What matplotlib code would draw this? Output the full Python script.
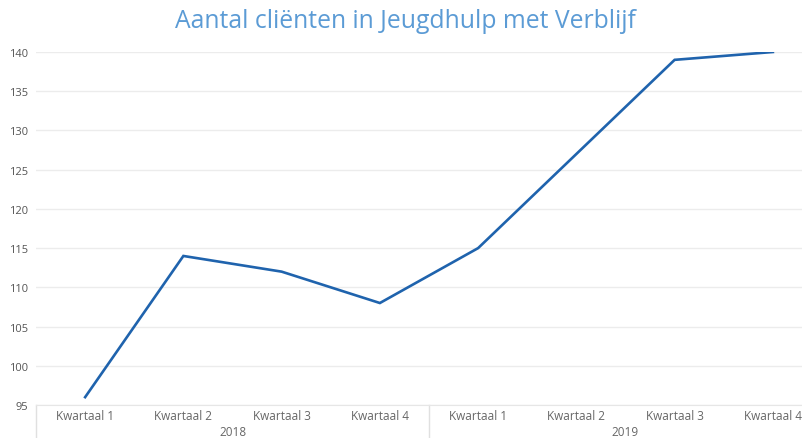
import matplotlib
matplotlib.use("Agg")
import matplotlib.pyplot as plt
import matplotlib.transforms as mtransforms

quarters = ["Kwartaal 1", "Kwartaal 2", "Kwartaal 3", "Kwartaal 4",
            "Kwartaal 1", "Kwartaal 2", "Kwartaal 3", "Kwartaal 4"]
years = ["2018", "2019"]
values = [96, 114, 112, 108, 115, 127, 139, 140]
yticks = [95, 100, 105, 110, 115, 120, 125, 130, 135, 140]

plt.rcParams['font.family'] = ['Open Sans', 'DejaVu Sans']

W, H = 803, 439
fig = plt.figure(figsize=(W / 100, H / 100), dpi=100)
left, right, top, bottom = 36, 822, 53, 406
ax = fig.add_axes([left / W, 1 - bottom / H, (right - left) / W, (bottom - top) / H])

x = list(range(len(values)))
ax.plot(x, values, color="#1f63ad", linewidth=1.9, solid_joinstyle="miter")
ax.set_xlim(-0.5, len(values) - 0.5)
ax.set_ylim(95, 140)
ax.set_yticks(yticks)
ax.set_yticklabels([str(t) for t in yticks], fontsize=8, color="#555555")
ax.set_xticks(x)
ax.set_xticklabels(quarters, fontsize=8.5, color="#666666")
ax.tick_params(axis="both", length=0)
ax.tick_params(axis="y", pad=6)
ax.tick_params(axis="x", pad=3)
ax.grid(axis="y", color="#ececec", linewidth=1)
ax.set_axisbelow(True)
for s in ["top", "right", "left"]:
    ax.spines[s].set_visible(False)
ax.spines["bottom"].set_color("#e6e6e6")

trans = mtransforms.blended_transform_factory(ax.transData, ax.transAxes)
for i, yr in enumerate(years):
    ax.text(i * 4 + 1.5, -0.075, yr, transform=trans, ha="center", va="center",
            fontsize=8.5, color="#666666")
for xs in [-0.5, 3.5]:
    ax.plot([xs, xs], [0, -0.11], transform=trans, color="#e0e0e0",
            linewidth=1, clip_on=False)

fig.text(405 / W, 1 - 22 / H, "Aantal cliënten in Jeugdhulp met Verblijf",
         ha="center", va="center", fontsize=17.8, color="#5b9bd5")

fig.savefig("out.png", dpi=100)
